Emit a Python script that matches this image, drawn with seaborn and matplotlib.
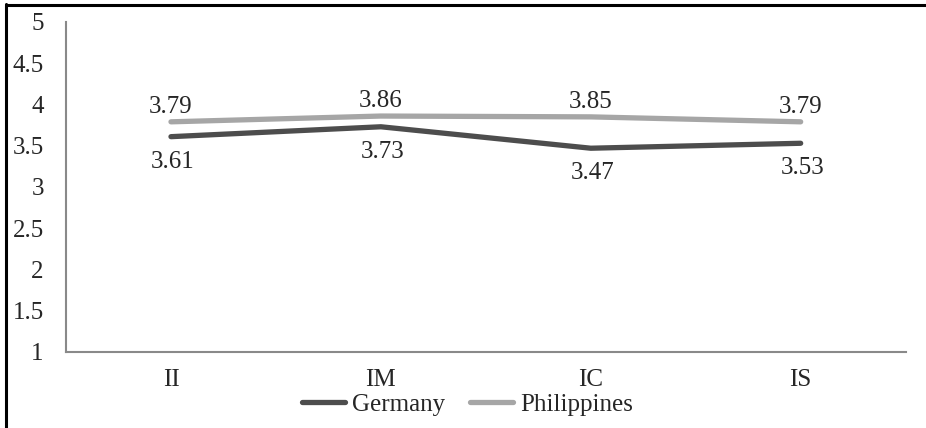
import matplotlib
matplotlib.use("Agg")
import matplotlib.pyplot as plt
from matplotlib.lines import Line2D
import seaborn as sns
import pandas as pd

categories = ["II", "IM", "IC", "IS"]
germany = [3.61, 3.73, 3.47, 3.53]
philippines = [3.79, 3.86, 3.85, 3.79]

df = pd.DataFrame({
    "pos": list(range(len(categories))) * 2,
    "value": germany + philippines,
    "country": ["Germany"] * 4 + ["Philippines"] * 4,
})

sns.set_style("white")
plt.rcParams["font.family"] = ["Liberation Serif", "DejaVu Serif"]
plt.rcParams["font.size"] = 18

fig = plt.figure(figsize=(9.26, 4.28), dpi=100)
ax = fig.add_axes([0.0713, 0.1776, 0.9067, 0.771])

colors = {"Germany": "#4d4d4d", "Philippines": "#a6a6a6"}
sns.lineplot(data=df, x="pos", y="value", hue="country", palette=colors,
             linewidth=3.8, ax=ax, legend=False)
for l in ax.lines:
    l.set_solid_capstyle("round")

for i, v in enumerate(philippines):
    ax.annotate(f"{v:.2f}", (i, v), xytext=(0, 15), textcoords="offset pixels",
                ha="center", va="center", fontsize=18)
for i, v in enumerate(germany):
    ax.annotate(f"{v:.2f}", (i, v), xytext=(2, -25), textcoords="offset pixels",
                ha="center", va="center", fontsize=18)

ax.set_xlim(-0.5, 3.5)
ax.set_ylim(1, 5)
ax.set_yticks([1, 1.5, 2, 2.5, 3, 3.5, 4, 4.5, 5])
ax.set_yticklabels(["1", "1.5", "2", "2.5", "3", "3.5", "4", "4.5", "5"])
ax.set_xticks(range(4))
ax.set_xticklabels(categories)
ax.set_xticks([-0.5, 0.5, 1.5, 2.5, 3.5], minor=True)
ax.tick_params(axis="x", which="major", length=0, pad=12)
ax.tick_params(axis="x", which="minor", length=5, width=1.2, color="#898989", direction="out")
ax.tick_params(axis="y", length=0, pad=16)
ax.set_xlabel("")
ax.set_ylabel("")

for side in ["top", "right"]:
    ax.spines[side].set_visible(False)
for side in ["left", "bottom"]:
    ax.spines[side].set_color("#898989")
    ax.spines[side].set_linewidth(1.5)

handles = [Line2D([], [], color=colors[c], linewidth=3.8, solid_capstyle="round") for c in colors]
fig.legend(handles, list(colors), loc="center", bbox_to_anchor=(0.505, 0.055), ncol=2,
           frameon=False, handlelength=1.7, handletextpad=0.3, columnspacing=1.0, fontsize=18)

fig.add_artist(Line2D([0.0065, 0.0065], [0, 0.99], transform=fig.transFigure, color="black", linewidth=2.2))
fig.add_artist(Line2D([0.0065, 1.0], [0.988, 0.988], transform=fig.transFigure, color="black", linewidth=2.2))

fig.savefig("out.png", dpi=100)
